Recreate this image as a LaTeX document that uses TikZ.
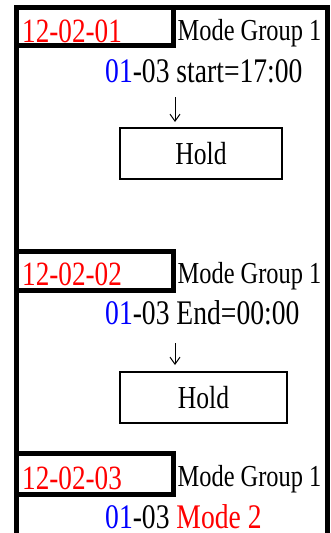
\documentclass[tikz,border=0pt]{standalone}
\usepackage{xcolor}
\usepackage{fontspec}
\setmainfont{Liberation Serif}[FakeStretch=0.8]
\usepackage{tikz}
\usetikzlibrary{arrows.meta, positioning, calc}

\begin{document}
\begin{tikzpicture}[x=1pt, y=-1pt,
    code/.style={anchor=base west, inner sep=0pt, text=red, font=\fontsize{34}{34}\selectfont},
    grp/.style={anchor=base west, inner sep=0pt, font=\fontsize{30.5}{31}\selectfont},
    stepline/.style={anchor=base west, inner sep=0pt, font=\fontsize{34.5}{35}\selectfont},
    holdbox/.style={draw, line width=1.6pt, inner sep=0pt, font=\fontsize{32}{32}\selectfont},
    frame/.style={line width=5pt},
    down/.style={-{Straight Barb[length=7pt, width=10pt]}, line width=1pt}]
    \useasboundingbox (0,0) rectangle (331,533);

    % outer frame
    \draw[frame] (16.5,545) -- (16.5,7.5) -- (327.5,7.5) -- (327.5,545);

    % 12-02-01
    \begin{scope}[shift={(0,0)}]
        \draw[frame] (16.5,45.8) -- (173,45.8) -- (173,7.5);
        \node[code] (c1) at (22,42.5) {12-02-01};
        \node[grp] (g1) at (177.5,40) {Mode Group 1};
        \node[stepline] (s1) at (105,82) {{\color{blue}01}-03 start=17:00};
        % arrow
        \coordinate (a1) at (175,97);
        \coordinate (b1) at (175,122);
        \draw[down] (a1) -- (b1);
        \node[holdbox, minimum width=162pt, minimum height=51pt] (h1) at (201,153.5) {Hold};
    \end{scope}

    % 12-02-02
    \begin{scope}[shift={(0,242)}]
        \draw[frame] (16.5,9) -- (173,9) -- (173,48.5) -- (16.5,48.5);
        \node[code] (c2) at (22,43) {12-02-02};
        \node[grp] (g2) at (177.5,41) {Mode Group 1};
        \node[stepline] (s2) at (105,82) {{\color{blue}01}-03 End=00:00};
        % arrow
        \coordinate (a2) at (175,101);
        \coordinate (b2) at (175,123);
        \draw[down] (a2) -- (b2);
        \node[holdbox, minimum width=167pt, minimum height=51pt] (h2) at (203.5,155.5) {Hold};
    \end{scope}

    % 12-02-03
    \begin{scope}[shift={(0,446)}]
        \draw[frame] (16.5,7.5) -- (173,7.5) -- (173,48.5) -- (16.5,48.5);
        \node[code] (c3) at (22,43) {12-02-03};
        \node[grp] (g3) at (177.5,40) {Mode Group 1};
        \node[stepline] (s3) at (105,82) {{\color{blue}01}-03 {\color{red}Mode 2}};
    \end{scope}
\end{tikzpicture}
\end{document}
